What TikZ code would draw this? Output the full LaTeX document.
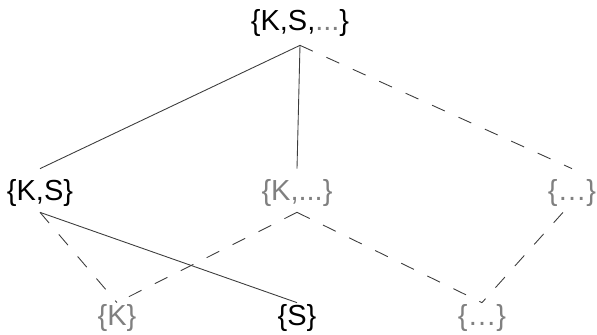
\documentclass[tikz,border=0pt]{standalone}
\usepackage{fontspec}
\setmainfont{Liberation Sans}
\usepackage{xcolor}
\usepackage{tikz}
\usetikzlibrary{positioning}
\definecolor{faded}{RGB}{128,128,128}
\definecolor{edgegray}{RGB}{60,60,60}

\begin{document}
\begin{tikzpicture}[
    subset/.style={font=\fontsize{16.5pt}{20pt}\selectfont, inner sep=0pt, anchor=base},
    upper/.style={subset, text height=0.64cm, text depth=0.22cm},
    lower/.style={subset, text height=0.46cm, text depth=0.22cm},
    faint/.style={text=faded},
    link/.style={draw=edgegray, line width=0.5pt},
    maybe/.style={link, dash pattern=on 8pt off 8.5pt}
]
\useasboundingbox (0,0) rectangle (11.94,-6.7);

% Conjunto superior
\node[subset, text depth=0.28cm] (top) at (6.00,-0.62) {\{K,S,\textcolor{faded}{...}\}};

% Nivel intermedio
\node[upper] (ks) at (0.80,-4.02) {\{K,S\}};
\node[upper, faint] (kd) at (5.94,-4.02) {\{K,...\}};
\node[upper, faint] (rd) at (11.44,-4.02) {\{…\}};

% Nivel inferior
\node[lower, faint] (k) at (2.34,-6.52) {\{K\}};
\node[lower] (s) at (5.94,-6.52) {\{S\}};
\node[lower, faint] (bd) at (9.64,-6.52) {\{…\}};

% Aristas
\draw[link] (top.south) -- (ks.north);
\draw[link] (top.south) -- (kd.north);
\draw[maybe] (top.south) -- (rd.north);
\draw[link] (ks.south) -- (s.north);
\draw[maybe] (ks.south) -- (k.north);
\draw[maybe] (kd.south) -- (k.north);
\draw[maybe] (kd.south) -- (bd.north);
\draw[maybe] ([xshift=-0.18cm]rd.south) -- (bd.north);

\end{tikzpicture}
\end{document}
